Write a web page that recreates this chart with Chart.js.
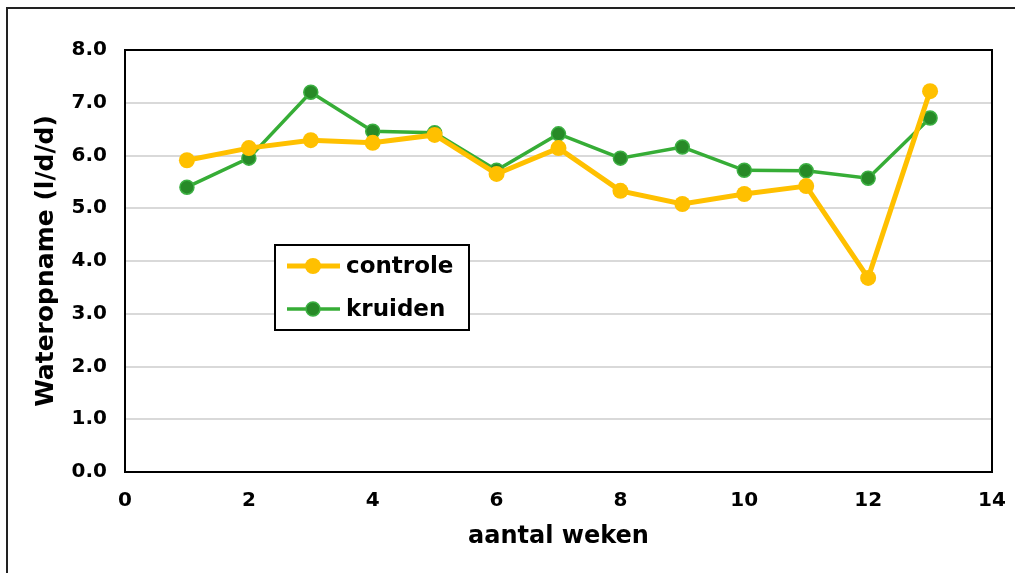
<!DOCTYPE html>
<html>
<head>
<meta charset="utf-8">
<script src="https://cdn.jsdelivr.net/npm/chart.js@4.4.1/dist/chart.umd.min.js"></script>
<style>
html,body{margin:0;padding:0;background:#fff;}
#wrap{width:1015px;height:573px;position:relative;}
</style>
</head>
<body>
<div id="wrap"><canvas id="c" width="1015" height="573"></canvas></div>
<script>
const weeks = [1,2,3,4,5,6,7,8,9,10,11,12,13];
const controle = [5.91,6.14,6.29,6.24,6.39,5.65,6.14,5.33,5.08,5.27,5.42,3.68,7.22];
const kruiden = [5.40,5.95,7.20,6.46,6.43,5.72,6.41,5.95,6.16,5.72,5.71,5.57,6.71];
const seriesNames = ['controle','kruiden'];
const xTitle = 'aantal weken';
const yTitle = 'Wateropname (l/d/d)';

const FONT = "'DejaVu Sans', Verdana, sans-serif";

const frame = {
  id:'frame',
  beforeDraw(chart){
    const ctx = chart.ctx;
    ctx.save();
    ctx.fillStyle='#fff';
    ctx.fillRect(0,0,chart.width,chart.height);
    ctx.strokeStyle='#222';
    ctx.lineWidth=2;
    ctx.beginPath();
    ctx.moveTo(7,chart.height);
    ctx.lineTo(7,8);
    ctx.lineTo(chart.width,8);
    ctx.stroke();
    ctx.restore();
  },
  afterDraw(chart){
    const ctx = chart.ctx, a = chart.chartArea;
    ctx.save();
    ctx.strokeStyle='#000';
    ctx.lineWidth=2;
    ctx.strokeRect(a.left,a.top,a.right-a.left,a.bottom-a.top);
    // legend box
    const bx=275, by=245, bw=194, bh=85;
    ctx.fillStyle='#fff';
    ctx.fillRect(bx,by,bw,bh);
    ctx.strokeStyle='#000';
    ctx.lineWidth=2;
    ctx.strokeRect(bx,by,bw,bh);
    const rows=[266,309];
    chart.data.datasets.forEach((ds,i)=>{
      const y=rows[i];
      ctx.strokeStyle=ds.borderColor;
      ctx.lineWidth=ds.borderWidth;
      ctx.beginPath();ctx.moveTo(287,y);ctx.lineTo(340,y);ctx.stroke();
      ctx.beginPath();ctx.arc(313,y,ds.pointRadius,0,Math.PI*2);
      ctx.fillStyle=ds.pointBackgroundColor;ctx.fill();
      if(ds.pointBorderWidth){ctx.lineWidth=ds.pointBorderWidth;ctx.strokeStyle=ds.pointBorderColor;ctx.stroke();}
      ctx.fillStyle='#000';
      ctx.font="bold 23px "+FONT;
      ctx.textBaseline='middle';
      ctx.textAlign='left';
      ctx.fillText(ds.label,346,y+1);
    });
    ctx.restore();
  }
};

new Chart(document.getElementById('c'),{
  type:'line',
  data:{
    datasets:[
      {label:seriesNames[0],data:weeks.map((w,i)=>({x:w,y:controle[i]})),borderColor:'#FFC000',backgroundColor:'#FFC000',borderWidth:5,pointRadius:8,pointBackgroundColor:'#FFC000',pointBorderColor:'#FFC000',pointBorderWidth:0,tension:0},
      {label:seriesNames[1],data:weeks.map((w,i)=>({x:w,y:kruiden[i]})),borderColor:'#36AD36',backgroundColor:'#278A27',borderWidth:3.5,pointRadius:7,pointBackgroundColor:'#278A27',pointBorderColor:'#3CB043',pointBorderWidth:1.5,tension:0}
    ]
  },
  options:{
    responsive:false,animation:false,devicePixelRatio:1,
    layout:{padding:{left:0,top:50,right:23,bottom:0}},
    plugins:{legend:{display:false},tooltip:{enabled:false}},
    scales:{
      x:{type:'linear',min:0,max:14,
        ticks:{stepSize:2,color:'#000',font:{family:FONT,size:20,weight:'bold'},padding:17,maxRotation:0},
        grid:{display:false,drawTicks:false},border:{display:false},
        title:{display:true,text:xTitle,color:'#000',font:{family:FONT,size:24,weight:'bold'},padding:{top:0,bottom:22}},
        afterFit(s){s.height=101;s.paddingLeft=0;s.paddingRight=0;}
      },
      y:{min:0,max:8,
        ticks:{stepSize:1,color:'#000',font:{family:FONT,size:20,weight:'bold'},padding:18,callback:v=>v.toFixed(1)},
        grid:{color:'#d9d9d9',lineWidth:2,drawTicks:false},border:{display:false},
        title:{display:true,text:yTitle,color:'#000',font:{family:FONT,size:25,weight:'bold'},padding:{top:31,bottom:0}},
        afterFit(s){s.width=125;s.paddingTop=0;s.paddingBottom=0;}
      }
    }
  },
  plugins:[frame]
});
</script>
</body>
</html>
